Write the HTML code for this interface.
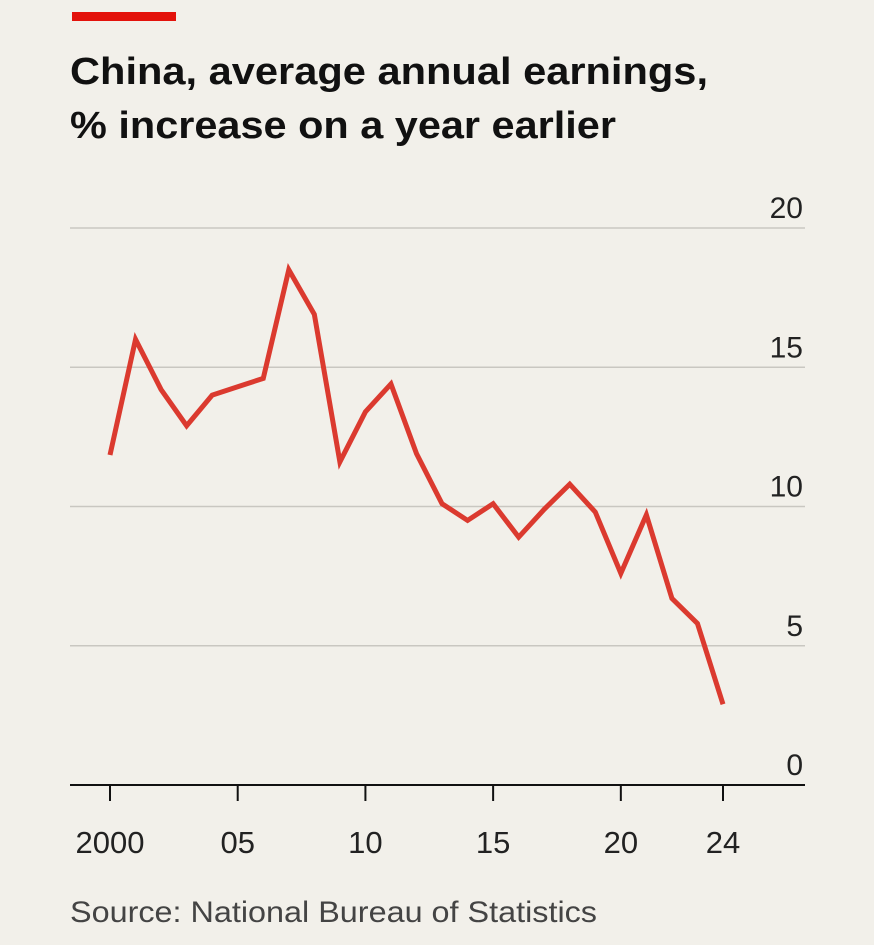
<!DOCTYPE html>
<html><head><meta charset="utf-8"><style>
body{margin:0;background:#f2f0ea;width:874px;height:940px;overflow:hidden;font-family:"Liberation Sans",sans-serif}
</style></head><body>
<svg width="874" height="940" xmlns="http://www.w3.org/2000/svg">
<rect x="72" y="12" width="104" height="9" fill="#e3120b"/>
<text x="70" y="84" font-size="38" font-weight="bold" fill="#111" font-family="'Liberation Sans Narrow','Liberation Sans',sans-serif" textLength="638" lengthAdjust="spacingAndGlyphs">China, average annual earnings,</text>
<text x="70" y="138" font-size="38" font-weight="bold" fill="#111" font-family="'Liberation Sans Narrow','Liberation Sans',sans-serif" textLength="546" lengthAdjust="spacingAndGlyphs">% increase on a year earlier</text>
<g id="grid"></g><g id="xaxis"></g>
<polyline id="line" fill="none" stroke="#db3a2f" stroke-width="5" stroke-linejoin="miter"/>
<text x="70" y="922" font-size="30" fill="#444" textLength="527" lengthAdjust="spacingAndGlyphs">Source: National Bureau of Statistics</text>
</svg>
<script>
const years=[2000,2001,2002,2003,2004,2005,2006,2007,2008,2009,2010,2011,2012,2013,2014,2015,2016,2017,2018,2019,2020,2021,2022,2023,2024];
const values=[11.85,16.0,14.2,12.9,14.0,14.3,14.6,18.5,16.9,11.6,13.4,14.4,11.9,10.1,9.5,10.1,8.9,9.9,10.8,9.8,7.6,9.7,6.7,5.8,2.9];
const yTicks=[0,5,10,15,20];
const xTickYears=[2000,2005,2010,2015,2020,2024];
const xTickLabels=["2000","05","10","15","20","24"];
const NS="http://www.w3.org/2000/svg";
const x=v=>110+(v-2000)*(723-110)/24;
const y=v=>785-v*(785-228)/20;
const grid=document.getElementById('grid'),xa=document.getElementById('xaxis');
yTicks.forEach(t=>{
 if(t>0){const l=document.createElementNS(NS,'line');
 l.setAttribute('x1',70);l.setAttribute('x2',805);l.setAttribute('y1',y(t));l.setAttribute('y2',y(t));
 l.setAttribute('stroke','#c9c7c1');l.setAttribute('stroke-width','1.5');
 
 
 grid.appendChild(l);}
 const tx=document.createElementNS(NS,'text');
 tx.setAttribute('x',803);tx.setAttribute('y',y(t)-10);tx.setAttribute('text-anchor','end');
 tx.setAttribute('font-size','30');tx.setAttribute('fill','#222');tx.textContent=t;
 
 
 grid.appendChild(tx);
});
const ax=document.createElementNS(NS,'line');
ax.setAttribute('x1',70);ax.setAttribute('x2',805);ax.setAttribute('y1',785);ax.setAttribute('y2',785);
ax.setAttribute('stroke','#111');ax.setAttribute('stroke-width','2');


xa.appendChild(ax);
xTickYears.forEach((yr,i)=>{
 const l=document.createElementNS(NS,'line');
 l.setAttribute('x1',x(yr));l.setAttribute('x2',x(yr));l.setAttribute('y1',785);l.setAttribute('y2',801);
 l.setAttribute('stroke','#111');l.setAttribute('stroke-width','2');
 
 
 xa.appendChild(l);
 const tx=document.createElementNS(NS,'text');
 tx.setAttribute('x',x(yr));tx.setAttribute('y',853);tx.setAttribute('text-anchor','middle');
 tx.setAttribute('font-size','31');tx.setAttribute('fill','#222');tx.textContent=xTickLabels[i];
 
 
 xa.appendChild(tx);
});
document.getElementById('line').setAttribute('points',years.map((yr,i)=>x(yr)+','+y(values[i])).join(' '));
</script>
</body></html>
